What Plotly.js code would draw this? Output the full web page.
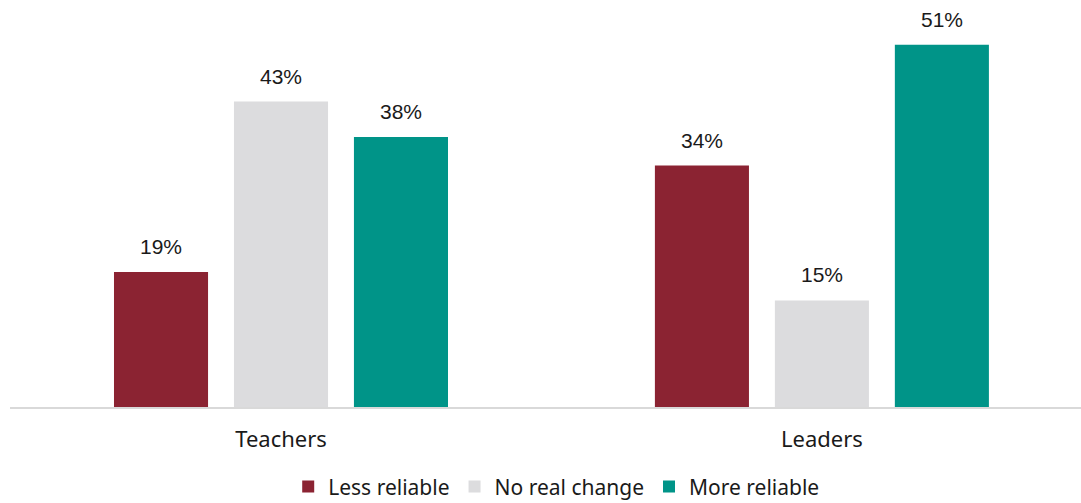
<!DOCTYPE html>
<html>
<head>
<meta charset="utf-8">
<script src="https://cdn.plot.ly/plotly-3.0.1.min.js"></script>
<style>html,body{margin:0;padding:0;background:#fff;}#chart{width:1081px;height:503px;}</style>
</head>
<body>
<div id="chart"></div>
<script>
const categories = ["Teachers", "Leaders"];
const seriesNames = ["Less reliable", "No real change", "More reliable"];
const lessReliable = [19, 34];
const noRealChange = [43, 15];
const moreReliable = [38, 51];
const colors = ["#8B2332", "#DCDCDE", "#009488"];

const values = [lessReliable, noRealChange, moreReliable];
const traces = values.map((v, i) => ({
  type: "bar",
  name: seriesNames[i],
  x: categories,
  y: v,
  marker: {color: colors[i]},
  hoverinfo: "skip"
}));

// data labels as annotations placed from the data values
const bargap = 0.3346, bargroupgap = 0.216;
const slot = (1 - bargap) / values.length;
const annotations = [];
values.forEach((v, i) => {
  const off = (i - (values.length - 1) / 2) * slot;
  v.forEach((d, j) => {
    annotations.push({
      x: j + off, y: d, xref: "x", yref: "y",
      text: d + "%", showarrow: false,
      yanchor: "bottom", yshift: 12,
      font: {family: "Liberation Sans, Arial, sans-serif", size: 21, color: "#1a1a1a"}
    });
  });
});

const layout = {
  width: 1081, height: 503,
  margin: {l: 10, r: 0, t: 0, b: 96},
  paper_bgcolor: "#fff", plot_bgcolor: "#fff",
  barmode: "group",
  bargap: bargap,
  bargroupgap: bargroupgap,
  annotations: annotations,
  xaxis: {
    type: "category",
    range: [-0.501, 1.479],
    showline: true, linecolor: "#D9D9D9", linewidth: 2,
    ticks: "", showgrid: false, automargin: false,
    ticklabelstandoff: 12,
    tickfont: {family: "Noto Sans, sans-serif", size: 22, color: "#1a1a1a"}
  },
  yaxis: {range: [0, 57.3], visible: false, showgrid: false, zeroline: false},
  showlegend: true,
  legend: {
    orientation: "h", x: 0.51, xanchor: "center",
    yref: "container", y: 0.032, yanchor: "middle",
    font: {family: "Noto Sans, sans-serif", size: 21, color: "#1a1a1a"},
    itemwidth: 30, traceorder: "normal"
  }
};
Plotly.newPlot("chart", traces, layout, {displayModeBar: false, staticPlot: true});
</script>
</body>
</html>
